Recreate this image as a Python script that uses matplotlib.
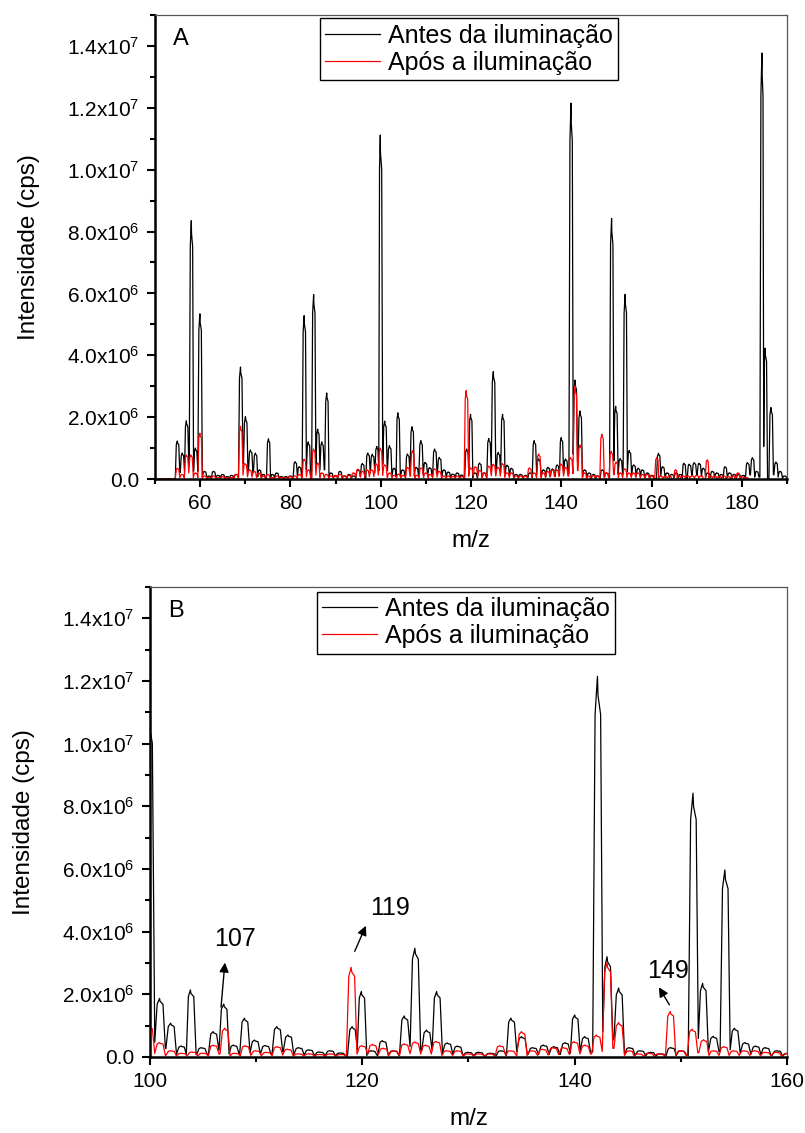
import numpy as np
import matplotlib
matplotlib.use('Agg')  # no display available
import matplotlib.pyplot as plt
from matplotlib.ticker import MultipleLocator, FuncFormatter

plt.rcParams['font.family'] = ['Liberation Sans', 'DejaVu Sans']
plt.rcParams['mathtext.fontset'] = 'custom'
plt.rcParams['mathtext.rm'] = 'Liberation Sans'
plt.rcParams['mathtext.it'] = 'Liberation Sans:italic'

# Peak list of the spectrum before illumination (m/z, intensity in 1e6 cps)
before_mz = [55.0, 56.1, 57.0, 58.1, 59.0, 60.0, 61.0, 62.0, 63.0, 64.0, 65.0, 66.0, 67.0, 68.0,
             69.0, 70.1, 71.2, 72.3, 73.2, 74.0, 75.2, 76.0, 77.0, 78.0, 79.0, 80.0, 81.1, 82.0,
             83.1, 84.0, 85.2, 86.1, 87.0, 88.1, 89.0, 90.0, 91.0, 92.0, 93.0, 94.0, 95.0, 96.0,
             97.2, 98.2, 99.2, 99.95, 100.95, 102.0, 103.0, 103.85, 104.9, 106.0, 107.0, 107.9,
             108.95, 109.9, 110.9, 112.0, 113.05, 114.05, 115.0, 116.0, 117.0, 117.95, 119.1,
             119.95, 120.9, 121.95, 122.95, 124.0, 125.0, 126.1, 127.05, 128.05, 129.0, 130.0,
             131.0, 132.1, 133.1, 134.05, 135.05, 136.1, 137.1, 138.1, 139.15, 140.05, 141.0,
             142.2, 143.1, 144.2, 145.2, 146.2, 147.2, 148.1, 149.1, 150.05, 151.2, 152.1, 153.1,
             154.2, 155.1, 156.1, 157.1, 158.0, 159.1, 160.1, 161.6, 162.5, 163.5, 164.5, 165.5,
             166.4, 167.2, 168.4, 169.5, 170.6, 171.5, 172.5, 173.5, 174.5, 175.5, 176.3, 177.3,
             178.3, 179.3, 180.3, 181.3, 182.4, 183.3, 184.5, 185.2, 186.5, 187.6, 188.5, 189.5]
before_int = [1.23, 0.84, 1.88, 8.35, 1.0, 5.34, 0.25, 0.1, 0.25, 0.12, 0.15, 0.08, 0.12, 0.15,
              3.62, 2.02, 0.94, 0.84, 0.3, 0.15, 1.3, 0.15, 0.2, 0.08, 0.08, 0.1, 0.56, 0.4,
              5.28, 1.2, 5.96, 1.61, 1.2, 2.78, 0.2, 0.1, 0.25, 0.1, 0.15, 0.1, 0.3, 0.5,
              0.84, 0.8, 1.05, 11.12, 1.87, 1.08, 0.35, 2.14, 0.3, 0.81, 1.69, 0.38,
              1.24, 0.54, 0.37, 0.97, 0.7, 0.3, 0.23, 0.16, 0.2, 0.13, 0.97,
              2.09, 0.2, 0.52, 0.2, 1.31, 3.47, 0.86, 2.09, 0.45, 0.35, 0.15,
              0.15, 0.12, 0.2, 1.24, 0.65, 0.3, 0.38, 0.33, 0.46, 1.34, 0.65,
              12.15, 3.2, 2.2, 0.3, 0.2, 0.15, 0.1, 0.3, 0.2, 8.42, 2.35, 0.66,
              5.97, 0.92, 0.46, 0.35, 0.3, 0.2, 0.12, 0.83, 0.4, 0.2, 0.15, 0.2,
              0.15, 0.51, 0.48, 0.53, 0.51, 0.35, 0.2, 0.25, 0.2, 0.15, 0.4, 0.2,
              0.15, 0.15, 0.12, 0.53, 0.69, 0.25, 13.77, 4.23, 2.31, 0.55, 0.25, 0.1]

# Peak list of the spectrum after illumination
after_mz = [55.0, 56.0, 57.0, 58.0, 59.0, 60.0, 61.0, 62.0, 63.0, 64.0, 65.0, 66.0, 67.0, 68.0,
            69.0, 70.0, 71.0, 72.0, 73.0, 74.0, 75.0, 76.0, 77.0, 78.0, 79.0, 80.0, 81.0, 82.0,
            83.1, 84.0, 85.2, 86.1, 87.0, 88.0, 89.0, 90.0, 91.0, 92.0, 93.0, 94.0, 95.0, 96.0,
            97.0, 98.0, 99.0, 99.95, 100.95, 102.0, 103.0, 104.0, 105.0, 106.0, 107.1, 108.0,
            109.0, 110.0, 111.0, 112.0, 113.0, 114.0, 115.0, 116.0, 117.0, 118.0, 119.0,
            120.0, 121.0, 122.0, 123.0, 124.0, 125.0, 126.0, 127.0, 128.0, 129.0, 130.0,
            131.0, 132.0, 133.0, 134.0, 135.05, 136.0, 137.0, 138.0, 139.0, 140.0, 141.0,
            142.1, 143.1, 144.2, 145.2, 146.0, 147.0, 148.0, 149.05, 150.0, 151.1, 152.2, 153.1,
            154.1, 155.0, 156.0, 157.0, 158.0, 159.0, 160.0, 161.2, 162.0, 163.0, 164.0, 165.4,
            166.0, 167.0, 168.0, 169.0, 170.0, 171.0, 172.4, 173.0, 174.0, 175.0, 176.0, 177.0,
            178.0, 179.2, 180.0, 181.0]
after_int = [0.35, 0.15, 0.78, 0.78, 0.2, 1.48, 0.1, 0.05, 0.1, 0.05, 0.08, 0.05, 0.05, 0.15,
             1.7, 0.5, 0.3, 0.25, 0.2, 0.1, 0.15, 0.05, 0.1, 0.05, 0.05, 0.08, 0.1, 0.15,
             0.64, 0.3, 0.97, 0.52, 0.2, 0.15, 0.1, 0.12, 0.15, 0.1, 0.12, 0.2, 0.32, 0.25,
             0.3, 0.3, 0.5, 1.0, 0.46, 0.2, 0.12, 0.16, 0.12, 0.38, 0.92, 0.12,
             0.36, 0.2, 0.15, 0.33, 0.25, 0.1, 0.1, 0.08, 0.1, 0.08, 2.86,
             0.36, 0.4, 0.28, 0.2, 0.42, 0.48, 0.38, 0.5, 0.2, 0.2, 0.1,
             0.1, 0.1, 0.36, 0.2, 0.81, 0.2, 0.25, 0.3, 0.3, 0.49, 0.38,
             0.7, 3.01, 1.1, 0.2, 0.1, 0.12, 0.1, 1.45, 0.2, 0.89, 0.55, 0.2,
             0.33, 0.2, 0.2, 0.2, 0.15, 0.15, 0.1, 0.69, 0.1, 0.08, 0.1, 0.3,
             0.1, 0.1, 0.1, 0.1, 0.12, 0.1, 0.62, 0.1, 0.1, 0.08, 0.1, 0.08,
             0.1, 0.2, 0.08, 0.05]

labels = ['Antes da iluminação', 'Após a iluminação']
annotations = [(107, (106.67, 1.5e6), (107.08, 3.1e6), (108.0, 3.77e6)),
               (119, (119.18, 3.29e6), (120.44, 4.27e6), (122.6, 4.76e6)),
               (149, (149.06, 1.59e6), (147.8, 2.3e6), (148.75, 2.75e6))]


def profile(mz, inten, start, stop):
    # turn the peak list into a profile trace, each peak about 1 m/z wide
    h = [v * 1e6 for v in inten]
    xs, ys = [start], [0.0]
    n = len(mz)
    for i in range(n):
        m = mz[i]
        if i > 0 and m - mz[i - 1] <= 1.2:
            left = max(m - 0.5, (mz[i - 1] + m) / 2)
            tl = 0.25 * min(h[i - 1], h[i])
        else:
            left, tl = m - 0.5, 0.0
        if i < n - 1 and mz[i + 1] - m <= 1.2:
            right = min(m + 0.5, (m + mz[i + 1]) / 2)
            tr = 0.25 * min(h[i + 1], h[i])
        else:
            right, tr = m + 0.5, 0.0
        xs += [left, m - 0.55 * (m - left), m - 0.1 * (m - left), m,
               m + 0.55 * (right - m), right]
        ys += [tl, 0.9 * h[i], h[i], 0.95 * h[i], 0.9 * h[i], tr]
    xs.append(stop)
    ys.append(0.0)
    return xs, ys


def sci_label(v, pos):
    if v < 0:
        return ''
    if v < 1:
        return '0.0'
    exp = int(np.floor(np.log10(v) + 1e-9))
    return f'{v / 10 ** exp:.1f}x10$^{{{exp}}}$'


def style_axes(ax, xlim, panel):
    ax.set_xlim(*xlim)
    ax.set_ylim(0, 1.5e7)
    ax.xaxis.set_major_locator(MultipleLocator(20))
    ax.xaxis.set_minor_locator(MultipleLocator(10))
    ax.yaxis.set_major_locator(MultipleLocator(2e6))
    ax.yaxis.set_minor_locator(MultipleLocator(1e6))
    ax.yaxis.set_major_formatter(FuncFormatter(sci_label))
    ax.tick_params(which='both', direction='out', width=1.5, top=False, right=False,
                   labelsize=15, pad=5)
    ax.tick_params(which='major', length=6)
    ax.tick_params(which='minor', length=3.5)
    for side in ['left', 'bottom']:
        ax.spines[side].set_linewidth(1.8)
    for side in ['top', 'right']:
        ax.spines[side].set_linewidth(0.9)
        ax.spines[side].set_color('#555555')
    ax.set_xlabel('m/z', fontsize=17.5, labelpad=12)
    ax.set_ylabel('Intensidade (cps)', fontsize=17.5, labelpad=20)
    ax.text(0.028, 0.972, panel, transform=ax.transAxes, fontsize=17, va='top', ha='left')


bx, by = profile(before_mz, before_int, 50, 190)
ax_, ay = profile(after_mz, after_int, 50, 181.5)

fig = plt.figure(figsize=(8.05, 11.33), dpi=100)
axA = fig.add_axes([0.1925, 0.5772, 0.7851, 0.4096])
axB = fig.add_axes([0.1863, 0.0671, 0.7913, 0.4148])

for ax, xlim, panel, anchor in [(axA, (50, 190), 'A', (0.497, 0.993)),
                                (axB, (100, 160), 'B', (0.496, 0.99))]:
    ax.plot(bx, by, color='black', lw=0.9, label=labels[0])
    ax.plot(ax_, ay, color='red', lw=0.9, label=labels[1])
    style_axes(ax, xlim, panel)
    ax.legend(loc='upper center', bbox_to_anchor=anchor, fontsize=18, fancybox=False,
              edgecolor='black', framealpha=1, handlelength=2.2, handletextpad=0.3,
              borderpad=0.22, labelspacing=0.12, borderaxespad=0)

# arrows marking the peaks that grow after illumination
for mz_val, tail, tip, txt in annotations:
    axB.annotate('', xy=tip, xytext=tail,
                 arrowprops=dict(arrowstyle='-|>', color='black', lw=1, mutation_scale=14))
    axB.text(txt[0], txt[1], str(mz_val), fontsize=18, ha='center', va='center')

fig.savefig('out.png', dpi=100)
